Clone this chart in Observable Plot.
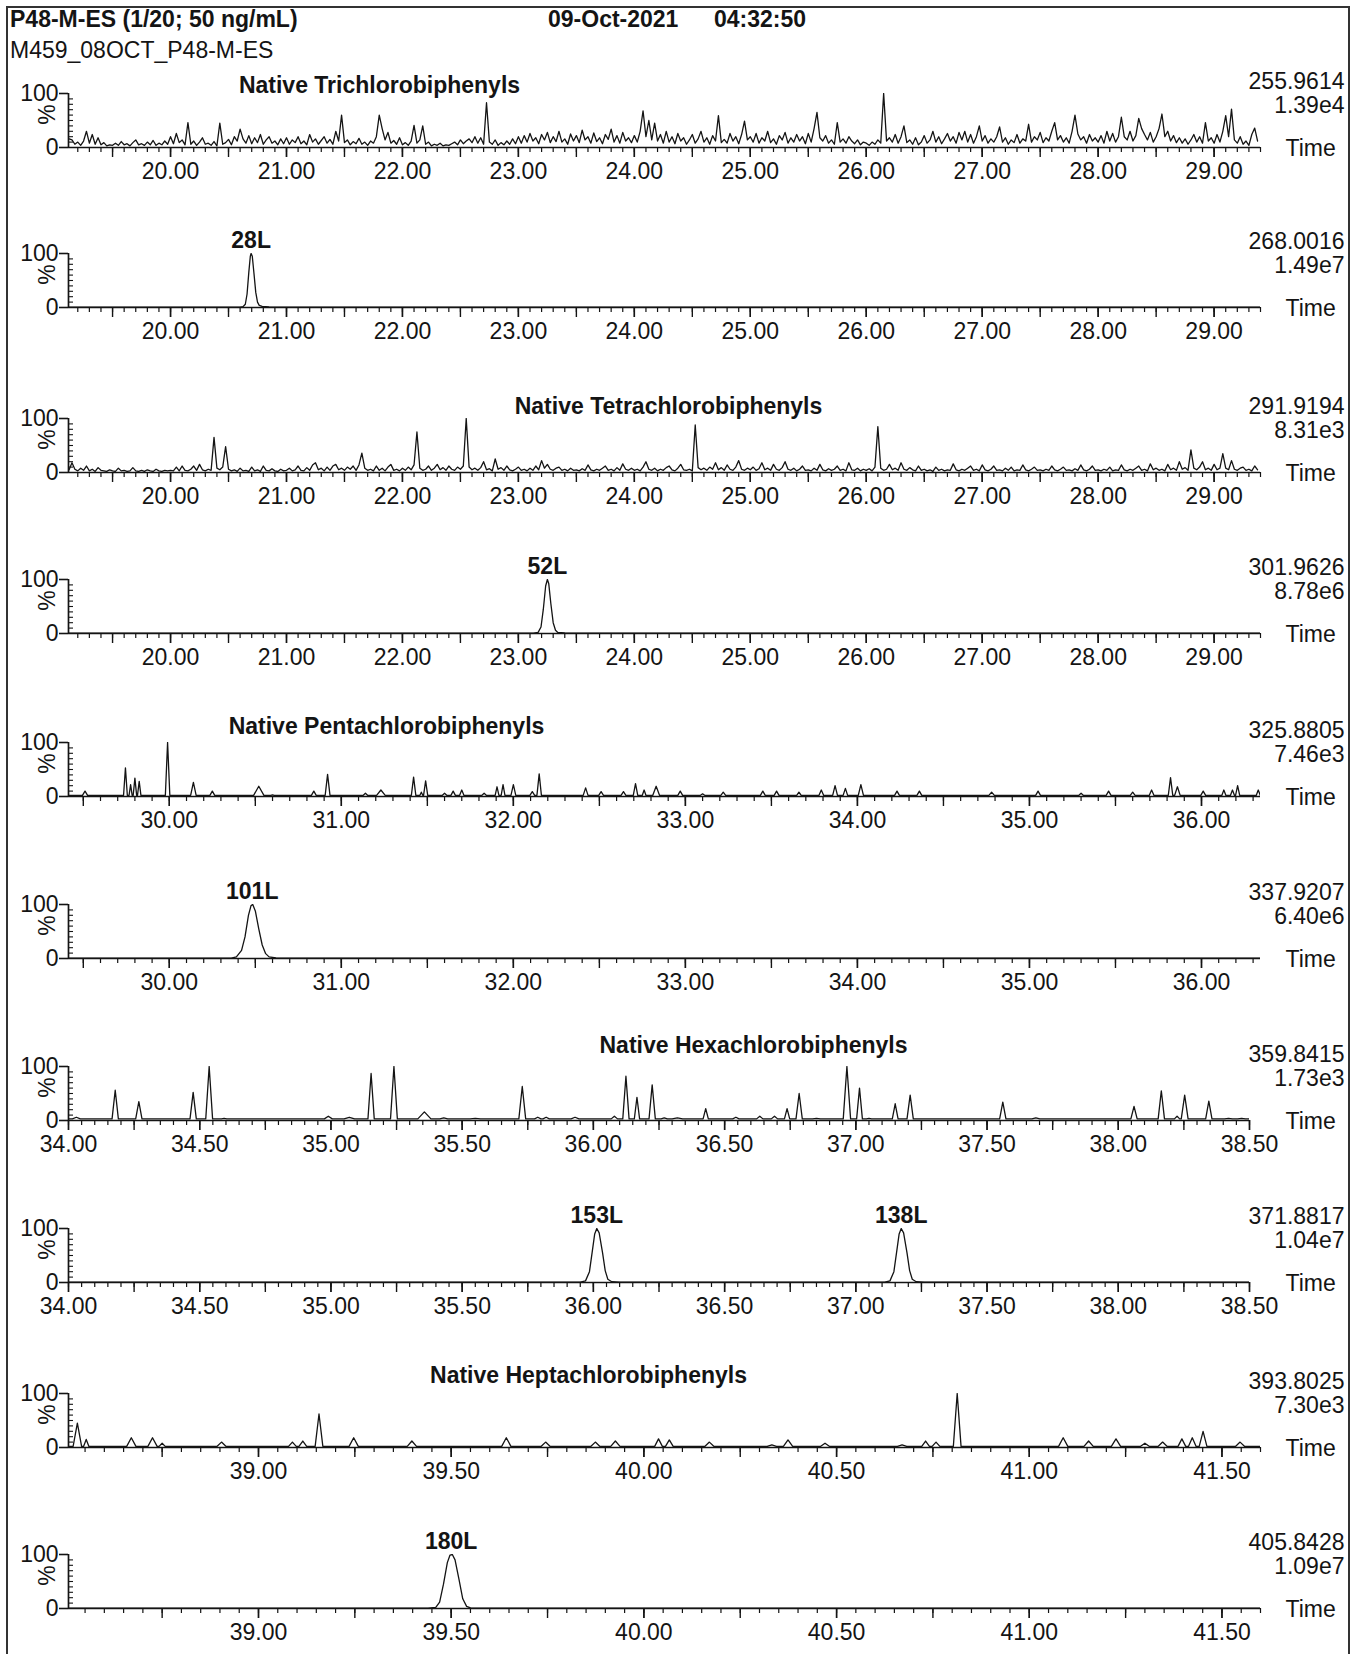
<!DOCTYPE html>
<html><head><meta charset="utf-8">
<script src="https://cdn.jsdelivr.net/npm/d3@7"></script>
<script src="https://cdn.jsdelivr.net/npm/@observablehq/plot@0.6"></script>
<style>
html,body{margin:0;padding:0;background:#fff}
body{font-family:"Liberation Sans",Arial,Helvetica,sans-serif;color:#141414}
#page{position:relative;width:1356px;height:1654px;overflow:hidden;background:#fff}
#frame{position:absolute;left:6px;top:6px;width:1344px;height:1700px;border:2px solid #333;box-sizing:border-box}
.hdr{position:absolute;font-size:23px;line-height:23px;white-space:nowrap}
.b{font-weight:bold}
.panel{position:absolute;left:0}
</style></head>
<body><div id="page"><div id="frame"></div></div>
<script>
// ---------------- header text ----------------
const headerTitle = "P48-M-ES (1/20; 50 ng/mL)";
const headerDate = "09-Oct-2021";
const headerTime = "04:32:50";
const headerFile = "M459_08OCT_P48-M-ES";

// ---------------- panel labels ----------------
const traceTitles = ["Native Trichlorobiphenyls", "", "Native Tetrachlorobiphenyls", "", "Native Pentachlorobiphenyls", "", "Native Hexachlorobiphenyls", "", "Native Heptachlorobiphenyls", ""];
const massLabels = ["255.9614", "268.0016", "291.9194", "301.9626", "325.8805", "337.9207", "359.8415", "371.8817", "393.8025", "405.8428"];
const intensityLabels = ["1.39e4", "1.49e7", "8.31e3", "8.78e6", "7.46e3", "6.40e6", "1.73e3", "1.04e7", "7.30e3", "1.09e7"];

// ---------------- tick labels (retention time, min) ----------------
const ticksTri = [20, 21, 22, 23, 24, 25, 26, 27, 28, 29];
const ticksPenta = [30, 31, 32, 33, 34, 35, 36];
const ticksHexa = [34, 34.5, 35, 35.5, 36, 36.5, 37, 37.5, 38, 38.5];
const ticksHepta = [39, 39.5, 40, 40.5, 41, 41.5];

// ---------------- traces (relative abundance, %) ----------------
// Trichloro 255.9614 : scans every 0.025 min from 19.125
const triStart = 19.125, triStep = 0.025;
const triAbund = [
  16,14,6,10,4,12,30,8,24,6,18,5,9,3,5,4,8,4,11,5,7,3,9,14,5,7,4,10,5,13,4,8,5,12,6,
  20,7,26,9,14,5,46,6,12,4,10,18,6,8,4,11,3,45,6,9,15,5,20,12,34,16,8,22,7,18,9,24,6,14,20,8,12,5,16,7,
  18,6,14,9,20,7,12,5,24,10,16,6,13,20,8,15,6,30,12,60,9,14,5,11,7,17,6,10,4,12,8,20,60,35,14,28,8,13,6,18,
  5,9,4,12,41,8,14,40,6,10,3,6,4,8,3,5,4,7,10,5,14,7,12,16,9,20,8,18,6,83,10,6,14,4,9,5,12,6,16,7,
  20,8,22,10,26,12,18,7,24,14,28,9,20,11,30,10,16,6,25,12,22,9,32,14,20,8,27,11,18,7,24,15,34,10,22,8,28,12,18,9,
  22,10,30,68,20,50,14,45,12,24,8,30,10,20,7,26,12,18,6,14,24,8,16,30,10,18,6,22,12,59,9,15,8,26,12,20,7,24,49,14,
  20,10,26,8,18,12,30,9,16,6,22,14,28,8,18,10,24,12,20,7,26,10,35,65,18,12,22,8,14,6,46,10,16,8,20,12,7,14,5,10,
  8,4,10,6,14,8,100,12,18,10,24,8,20,40,9,14,6,18,5,10,22,8,14,30,10,20,7,16,26,12,20,8,28,14,30,10,24,8,20,40,
  12,22,8,16,10,20,38,10,18,6,14,9,24,8,16,12,43,10,20,14,28,9,18,12,30,46,14,22,10,18,8,30,60,25,14,20,8,24,12,18,
  10,22,8,30,12,26,10,20,56,20,14,30,12,22,54,35,24,14,28,10,20,35,62,20,30,12,22,9,18,8,16,6,14,24,10,20,8,46,12,18,
  8,24,10,30,59,20,71,14,8,20,6,12,4,24,36,12
];
// Tetrachloro 291.9194 : scans every 0.025 min from 19.125
const tetraStart = 19.125, tetraStep = 0.025;
const tetraAbund = [
  5,18,6,3,8,4,12,3,6,2,9,4,3,2,5,3,2,8,3,4,2,3,9,3,2,4,2,5,3,2,6,3,2,4,3,
  4,3,10,3,12,4,3,6,12,4,15,5,3,6,4,65,8,5,10,48,6,3,5,2,8,3,4,2,10,3,5,2,12,4,3,7,3,2,6,3,
  4,8,3,5,12,4,3,9,4,14,18,5,8,3,10,4,12,15,5,8,4,10,6,12,4,14,36,8,4,6,3,12,4,8,3,10,15,4,6,3,
  8,4,10,5,14,75,8,4,6,12,4,8,15,5,9,4,12,6,4,10,6,12,100,10,5,8,4,9,20,5,7,3,25,6,9,4,12,5,3,6,
  10,4,6,3,8,4,12,5,22,8,15,6,4,8,10,4,6,3,8,4,5,3,7,4,14,5,3,6,4,8,12,4,6,3,9,4,16,6,4,8,
  4,6,3,10,20,6,4,8,3,6,4,9,12,5,3,8,15,5,4,6,3,88,9,5,8,4,10,6,18,5,9,4,14,6,4,10,22,6,4,8,
  5,10,4,7,18,5,8,4,15,6,4,9,20,6,4,8,3,6,12,4,5,3,8,4,15,5,3,7,4,6,12,4,6,3,18,5,4,8,3,6,
  4,7,3,10,85,8,4,6,15,5,8,4,18,6,4,9,5,3,12,4,6,3,5,2,10,4,6,3,5,4,16,5,3,6,4,8,12,4,6,3,
  14,5,3,6,12,4,5,3,8,4,10,3,5,4,14,5,3,6,10,4,5,3,6,4,12,5,3,6,10,4,5,3,7,4,14,5,3,6,12,4,
  5,3,6,4,10,3,5,4,14,5,3,6,4,8,12,4,6,3,16,5,8,4,6,3,15,5,8,4,20,6,9,4,42,8,5,10,20,5,8,4,
  15,5,8,35,8,5,22,6,4,8,10,4,6,3,12,5
];
// Pentachloro 325.8805 : peaks [rt, %, half-width]
const pentaBase = 2;
const pentaPeaks = [
  [29.51,10,0.015],[29.745,53,0.011],[29.775,22,0.009],[29.80,34,0.01],[29.825,28,0.01],
  [29.99,100,0.013],[30.14,26,0.016],[30.25,10,0.014],[30.52,19,0.03],[30.60,3,0.01],
  [30.84,10,0.014],[30.92,41,0.014],[31.14,6,0.014],[31.23,12,0.025],[31.42,36,0.013],
  [31.465,8,0.009],[31.49,29,0.012],[31.60,6,0.014],[31.65,10,0.013],[31.70,12,0.013],
  [31.83,6,0.014],[31.905,18,0.011],[31.94,22,0.011],[32.00,22,0.014],[32.11,9,0.014],
  [32.15,42,0.013],[32.42,16,0.014],[32.51,9,0.014],[32.64,9,0.014],[32.71,24,0.013],
  [32.76,12,0.011],[32.83,19,0.02],[32.97,10,0.014],[33.10,5,0.014],[33.22,8,0.014],
  [33.45,10,0.014],[33.53,10,0.014],[33.66,8,0.013],[33.79,12,0.014],[33.87,20,0.014],
  [33.93,15,0.013],[34.02,22,0.015],[34.23,10,0.014],[34.36,10,0.014],[34.78,8,0.016],
  [35.05,10,0.014],[35.30,6,0.014],[35.46,10,0.014],[35.60,8,0.014],[35.71,12,0.014],
  [35.82,35,0.013],[35.86,18,0.016],[36.01,10,0.014],[36.13,12,0.012],[36.18,12,0.012],
  [36.21,20,0.012],[36.33,12,0.012]
];
// Hexachloro 359.8415 : peaks [rt, %, half-width]
const hexaBase = 3;
const hexaPeaks = [
  [34.03,6,0.015],[34.178,56,0.012],[34.268,35,0.012],[34.475,52,0.012],[34.536,100,0.013],
  [34.593,4,0.01],[34.99,8,0.015],[35.07,6,0.02],[35.153,87,0.012],[35.24,100,0.013],
  [35.356,16,0.025],[35.43,5,0.015],[35.55,4,0.02],[35.729,63,0.013],[35.788,6,0.012],
  [35.82,6,0.012],[35.93,6,0.015],[36.08,8,0.012],[36.124,82,0.012],[36.166,43,0.01],
  [36.224,66,0.012],[36.27,5,0.012],[36.32,5,0.02],[36.428,22,0.01],[36.543,6,0.012],
  [36.634,8,0.012],[36.69,8,0.012],[36.738,22,0.01],[36.784,50,0.012],[36.85,4,0.015],
  [36.966,100,0.014],[37.014,60,0.011],[37.05,4,0.01],[37.15,31,0.011],[37.207,47,0.012],
  [37.56,34,0.012],[37.686,5,0.015],[38.06,26,0.012],[38.164,55,0.012],[38.224,8,0.01],
  [38.253,47,0.013],[38.345,36,0.012],[38.42,4,0.015],[38.47,4,0.015]
];
// Heptachloro 393.8025 : peaks [rt, %, half-width]
const heptaBase = 2;
const heptaPeaks = [
  [38.53,45,0.011],[38.553,15,0.007],[38.67,18,0.012],[38.725,18,0.012],[38.75,8,0.008],
  [38.904,10,0.012],[39.088,10,0.01],[39.115,12,0.01],[39.157,62,0.01],[39.247,18,0.012],
  [39.398,12,0.012],[39.643,18,0.012],[39.745,10,0.012],[39.874,10,0.012],[39.926,12,0.012],
  [40.038,16,0.01],[40.066,14,0.01],[40.17,10,0.012],[40.332,5,0.012],[40.374,14,0.012],
  [40.47,8,0.012],[40.67,5,0.012],[40.731,12,0.01],[40.758,10,0.01],[40.813,100,0.01],
  [41.088,18,0.012],[41.154,12,0.012],[41.225,16,0.012],[41.30,8,0.012],[41.346,10,0.012],
  [41.396,16,0.01],[41.423,18,0.01],[41.451,30,0.01],[41.547,10,0.012]
];
// Labelled (13C) standards: peak outlines [rt, %]
const peak28L = [[20.60,0.6],[20.625,1.5],[20.645,6],[20.66,25],[20.675,65],[20.688,95],[20.695,100],[20.705,95],[20.72,62],[20.735,28],[20.75,10],[20.765,4],[20.79,2],[20.85,1.2],[21.0,0.8]];
const peak52L = [[23.13,0.6],[23.17,2],[23.195,12],[23.215,45],[23.235,88],[23.25,100],[23.262,92],[23.28,55],[23.30,20],[23.32,6],[23.34,2],[23.40,1],[23.6,0.6]];
const peak101L = [[30.36,0.5],[30.39,3],[30.42,15],[30.44,40],[30.46,80],[30.475,98],[30.485,100],[30.50,88],[30.52,55],[30.54,25],[30.56,9],[30.58,3],[30.62,1],[30.8,0.5]];
const peak153L138L = [[35.95,0.5],[35.97,3],[35.985,20],[35.995,55],[36.005,90],[36.013,100],[36.022,92],[36.035,55],[36.045,22],[36.055,6],[36.07,1.5],[36.1,0.5],
  [37.11,0.5],[37.13,3],[37.145,20],[37.155,55],[37.165,90],[37.173,100],[37.182,92],[37.195,55],[37.205,22],[37.215,6],[37.23,1.5],[37.26,0.5]];
const peak180L = [[39.44,0.5],[39.46,2],[39.47,12],[39.48,45],[39.49,85],[39.497,99],[39.503,100],[39.51,90],[39.52,55],[39.53,18],[39.54,4],[39.55,1],[39.58,0.5]];
const peakNames = [[], [{t: 20.695, name: "28L"}], [], [{t: 23.25, name: "52L"}], [], [{t: 30.482, name: "101L"}], [], [{t: 36.013, name: "153L"}, {t: 37.173, name: "138L"}], [], [{t: 39.50, name: "180L"}]];

// ---------------- build traces ----------------
const grid = (vals, start, step) => vals.map((v, i) => [start + i * step, v]);
function peakTrace(peaks, base, [x0, x1]) {
  const pts = [[x0, base]];
  for (const [t, h, w] of peaks) pts.push([t - w, base], [t, h], [t + w, base]);
  pts.push([x1, base]);
  return pts;
}
const outline = (pts, [x0, x1]) => [[x0, pts[0][1]], ...pts, [x1, pts[pts.length - 1][1]]];

// ---------------- layout ----------------
const domTri = [19.12, 29.40], domPenta = [29.414, 36.343], domHexa = [34.0, 38.5], domHepta = [38.507, 41.6];
const baselines = [146.7, 307, 471.7, 633, 795.7, 958, 1120, 1282, 1447, 1608];
const panels = [
  {dom: domTri, right: 1260, labels: ticksTri, mid: 0.5, minor: 0.1, trace: grid(triAbund, triStart, triStep), titleX: 379, titleUp: 62},
  {dom: domTri, right: 1260, labels: ticksTri, mid: 0.5, minor: 0.1, trace: outline(peak28L, domTri)},
  {dom: domTri, right: 1260, labels: ticksTri, mid: 0.5, minor: 0.1, trace: grid(tetraAbund, tetraStart, tetraStep), titleX: 668, titleUp: 66},
  {dom: domTri, right: 1260, labels: ticksTri, mid: 0.5, minor: 0.1, trace: outline(peak52L, domTri)},
  {dom: domPenta, right: 1260, labels: ticksPenta, mid: 0.5, minor: 0.1, trace: peakTrace(pentaPeaks, pentaBase, domPenta), titleX: 386, titleUp: 70},
  {dom: domPenta, right: 1260, labels: ticksPenta, mid: 0.5, minor: 0.1, trace: outline(peak101L, domPenta)},
  {dom: domHexa, right: 1249, labels: ticksHexa, mid: 0.25, minor: 0.05, trace: peakTrace(hexaPeaks, hexaBase, domHexa), titleX: 753, titleUp: 75},
  {dom: domHexa, right: 1249, labels: ticksHexa, mid: 0.25, minor: 0.05, trace: outline(peak153L138L, domHexa)},
  {dom: domHepta, right: 1260, labels: ticksHepta, mid: 0.25, minor: 0.05, trace: peakTrace(heptaPeaks, heptaBase, domHepta), titleX: 588, titleUp: 72},
  {dom: domHepta, right: 1260, labels: ticksHepta, mid: 0.25, minor: 0.05, trace: outline(peak180L, domHepta)}
];

const ink = "#141414";
const FONT = "'Liberation Sans', Arial, Helvetica, sans-serif";
const W = 1356, H = 160, B = 115, L = 68, SPAN = 54;
const FS = 23;
const LABEL_RIGHT = 1344, TIME_LEFT = 1285;

function stepTicks([x0, x1], s) {
  const a = Math.ceil(x0 / s - 1e-6), b = Math.floor(x1 / s + 1e-6);
  return d3.range(a, b + 1).map(k => +(k * s).toFixed(4));
}

function makePanel(p, i) {
  const R = p.right, top = B - SPAN;
  const marks = [
    Plot.ruleY([0], {stroke: ink, strokeWidth: 1.7}),
    Plot.ruleX([p.dom[0]], {y1: 0, y2: 100, stroke: ink, strokeWidth: 1.7}),
    Plot.tickY(d3.range(10, 100, 10), {y: d => d, stroke: ink, strokeWidth: 1.1, insetRight: (R - L) - 5}),
    Plot.axisY({ticks: [0, 100], tickSize: 9, tickPadding: 1, fontSize: FS, label: null, stroke: ink, strokeWidth: 1.6, tickFormat: d => String(d)}),
    Plot.axisX({ticks: stepTicks(p.dom, p.minor), tickSize: 5, tickFormat: () => "", label: null, stroke: ink, strokeWidth: 1.2}),
    Plot.axisX({ticks: stepTicks(p.dom, p.mid), tickSize: 10, tickFormat: () => "", label: null, stroke: ink, strokeWidth: 1.4}),
    Plot.axisX({ticks: p.labels, tickSize: 10, tickPadding: 5, fontSize: FS, tickFormat: d3.format(".2f"), label: null, stroke: ink, strokeWidth: 1.4}),
    Plot.line(p.trace, {x: d => d[0], y: d => d[1], stroke: ink, strokeWidth: 1.3, clip: true}),
    Plot.text(["%"], {frameAnchor: "left", dx: -21, dy: -6, rotate: -90, textAnchor: "middle", lineAnchor: "middle", fontSize: FS, fill: ink}),
    Plot.text([massLabels[i]], {frameAnchor: "top-right", dx: LABEL_RIGHT - R, dy: (B - 66) - top, textAnchor: "end", lineAnchor: "middle", fontSize: FS, fill: ink}),
    Plot.text([intensityLabels[i]], {frameAnchor: "top-right", dx: LABEL_RIGHT - R, dy: (B - 42) - top, textAnchor: "end", lineAnchor: "middle", fontSize: FS, fill: ink}),
    Plot.text(["Time"], {frameAnchor: "bottom-right", dx: TIME_LEFT - R, dy: 1, textAnchor: "start", lineAnchor: "middle", fontSize: FS, fill: ink})
  ];
  if (traceTitles[i]) marks.push(Plot.text([traceTitles[i]], {frameAnchor: "top-left", dx: p.titleX - L, dy: (B - p.titleUp) - top, textAnchor: "middle", lineAnchor: "middle", fontSize: FS, fontWeight: "bold", fill: ink}));
  if (peakNames[i].length) marks.push(Plot.text(peakNames[i], {x: "t", y: () => 100, text: "name", dy: -13, lineAnchor: "middle", fontSize: FS, fontWeight: "bold", fill: ink}));
  return Plot.plot({
    width: W, height: H,
    marginLeft: L, marginRight: W - R, marginTop: top, marginBottom: H - B,
    x: {domain: p.dom}, y: {domain: [0, 100]},
    style: {fontFamily: FONT, fontSize: FS + "px", background: "transparent", overflow: "visible", color: ink},
    marks
  });
}

const page = document.getElementById("page");
function hdr(text, x, y, bold) {
  const d = document.createElement("div");
  d.className = "hdr" + (bold ? " b" : "");
  d.style.left = x + "px"; d.style.top = y + "px";
  d.textContent = text;
  page.appendChild(d);
}
hdr(headerTitle, 10, 8, true);
hdr(headerDate, 548, 8, true);
hdr(headerTime, 714, 8, true);
hdr(headerFile, 10, 39, false);

panels.forEach((p, i) => {
  const wrap = document.createElement("div");
  wrap.className = "panel";
  wrap.style.top = (baselines[i] - B) + "px";
  wrap.appendChild(makePanel(p, i));
  page.appendChild(wrap);
});
</script>
</body></html>
